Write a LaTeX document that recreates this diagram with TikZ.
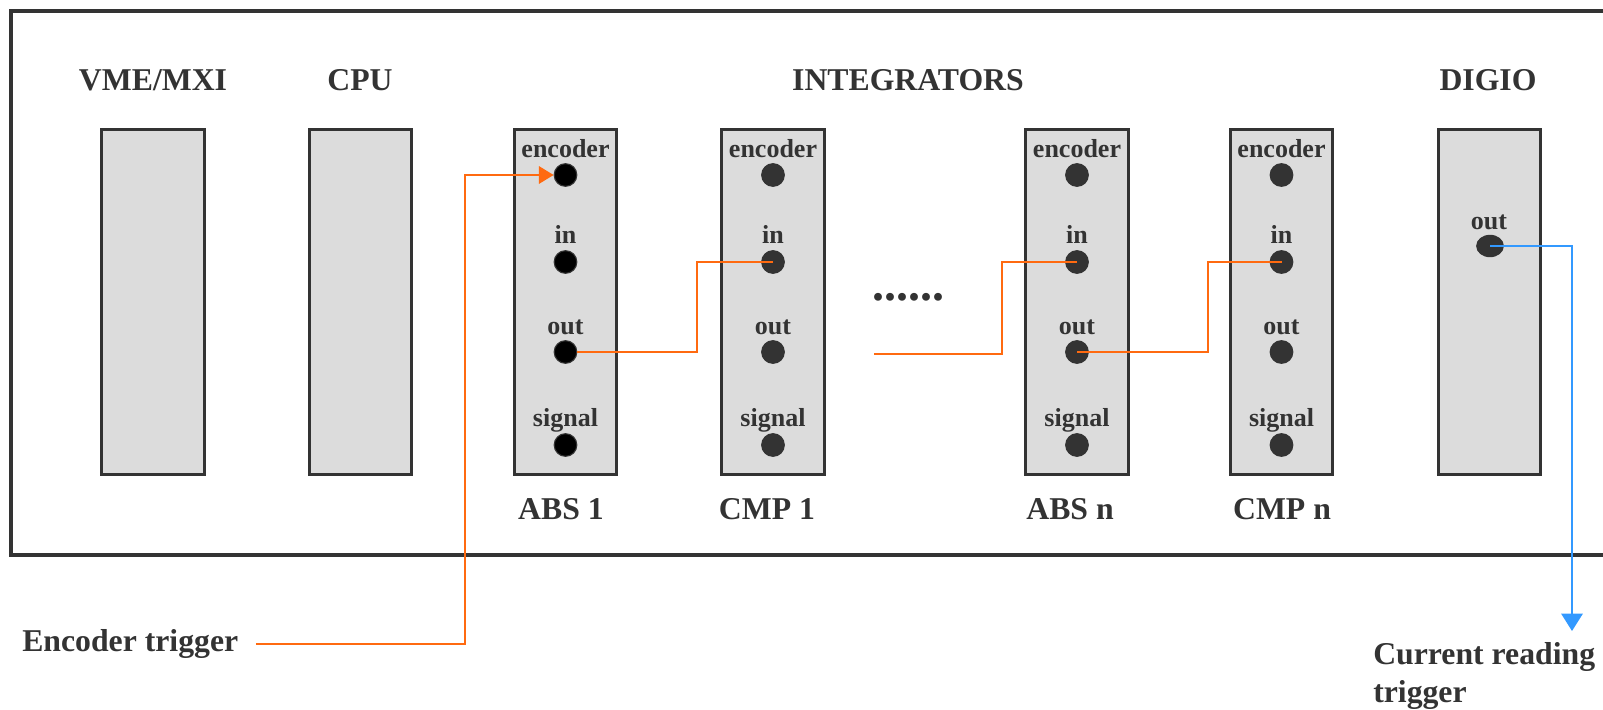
\documentclass[tikz,border=0pt]{standalone}
\usepackage{fontspec}
\setmainfont{Liberation Serif}
\usetikzlibrary{arrows.meta,shapes.geometric}
\definecolor{tx}{HTML}{333333}
\definecolor{boxfill}{HTML}{DCDCDC}
\definecolor{org}{HTML}{FF6A10}
\definecolor{blu}{HTML}{3399FF}
\begin{document}
\begin{tikzpicture}[x=0.75pt,y=-0.75pt,
  lbl/.style={text=tx,inner sep=0,font=\bfseries\fontsize{23.8}{28.5}\selectfont},
  small/.style={text=tx,inner sep=0,anchor=base,font=\bfseries\fontsize{19.5}{23}\selectfont},
  card/.style={draw=tx,fill=boxfill,line width=2.2pt,minimum width=77pt,minimum height=259pt,inner sep=0},
  pin/.style={circle,draw=tx,fill=tx,minimum size=17pt,inner sep=0,line width=0.8pt},
  wire/.style={draw=org,line width=1.5pt},
  bwire/.style={draw=blu,line width=1.5pt}]
\clip (0,0) rectangle (1603,710);
\fill[white] (0,0) rectangle (1603,710);
% outer frame
\draw[draw=tx,line width=2.4pt] (11,11) rectangle (1640,555);
% headings
\node[lbl,anchor=base] (hvme) at (153,91) {VME/MXI};
\node[lbl,anchor=base] (hcpu) at (360,91) {CPU};
\node[lbl,anchor=base] (hint) at (908,91) {INTEGRATORS};
\node[lbl,anchor=base] (hdig) at (1488,91) {DIGIO};
% plain cards
\node[card] (vme) at (153,302) {};
\node[card] (cpu) at (360.5,302) {};
% integrator cards
\foreach \n/\x/\lx/\lab/\pf in {a1/565.5/561/ABS 1/black, c1/773/767/CMP 1/tx, an/1077/1070/ABS n/tx, cn/1281.5/1282/CMP n/tx} {
  \node[card] (\n) at (\x,302) {};
  \node[small] (\n-encl) at (\x,157) {encoder};
  \node[pin,fill=\pf] (\n-enc) at (\x,175) {};
  \node[small] (\n-inl) at (\x,243) {in};
  \node[pin,fill=\pf] (\n-in) at (\x,262) {};
  \node[small] (\n-outl) at (\x,334) {out};
  \node[pin,fill=\pf] (\n-out) at (\x,352) {};
  \node[small] (\n-sigl) at (\x,426) {signal};
  \node[pin,fill=\pf] (\n-sig) at (\x,445) {};
  \node[lbl,anchor=base] (\n-name) at (\lx,519) {\lab};
}
% DIGIO card
\node[card] (dg) at (1489.5,302) {};
\node[small] (dg-outl) at (1489,229) {out};
\node[ellipse,draw=tx,fill=tx,minimum width=20pt,minimum height=16pt,inner sep=0,line width=0.8pt] (dg-out) at (1490,246) {};
% ellipsis
\node[text=tx,inner sep=0,font=\bfseries\fontsize{36}{42}\selectfont] (dots) at (908,297) {......};
% texts below
\node[lbl,anchor=west] (enctrig) at (22,644) {Encoder trigger};
\node[lbl,anchor=north west,align=left] (curtrig) at (1373,642) {Current reading\\trigger};
% connectors
\coordinate (e1) at (465,175);
\draw[wire,-{Triangle[length=11pt,width=13pt]}] ([xshift=13pt]enctrig.east) -| (e1) -- (a1-enc.west);
\coordinate (b1) at (697,262);
\draw[wire] (a1-out.east) -| (b1) -- (c1-in.center);
\coordinate (gap) at (874,354);
\coordinate (b2) at (1002,262);
\draw[wire] (gap) -| (b2) -- (an-in.center);
\coordinate (b3) at (1208,262);
\draw[wire] (an-out.center) -| (b3) -- (cn-in.center);
\coordinate (tip) at (1572,631);
\draw[bwire,-{Triangle[length=13pt,width=16pt]}] (dg-out.center) -| (tip);
\end{tikzpicture}
\end{document}
